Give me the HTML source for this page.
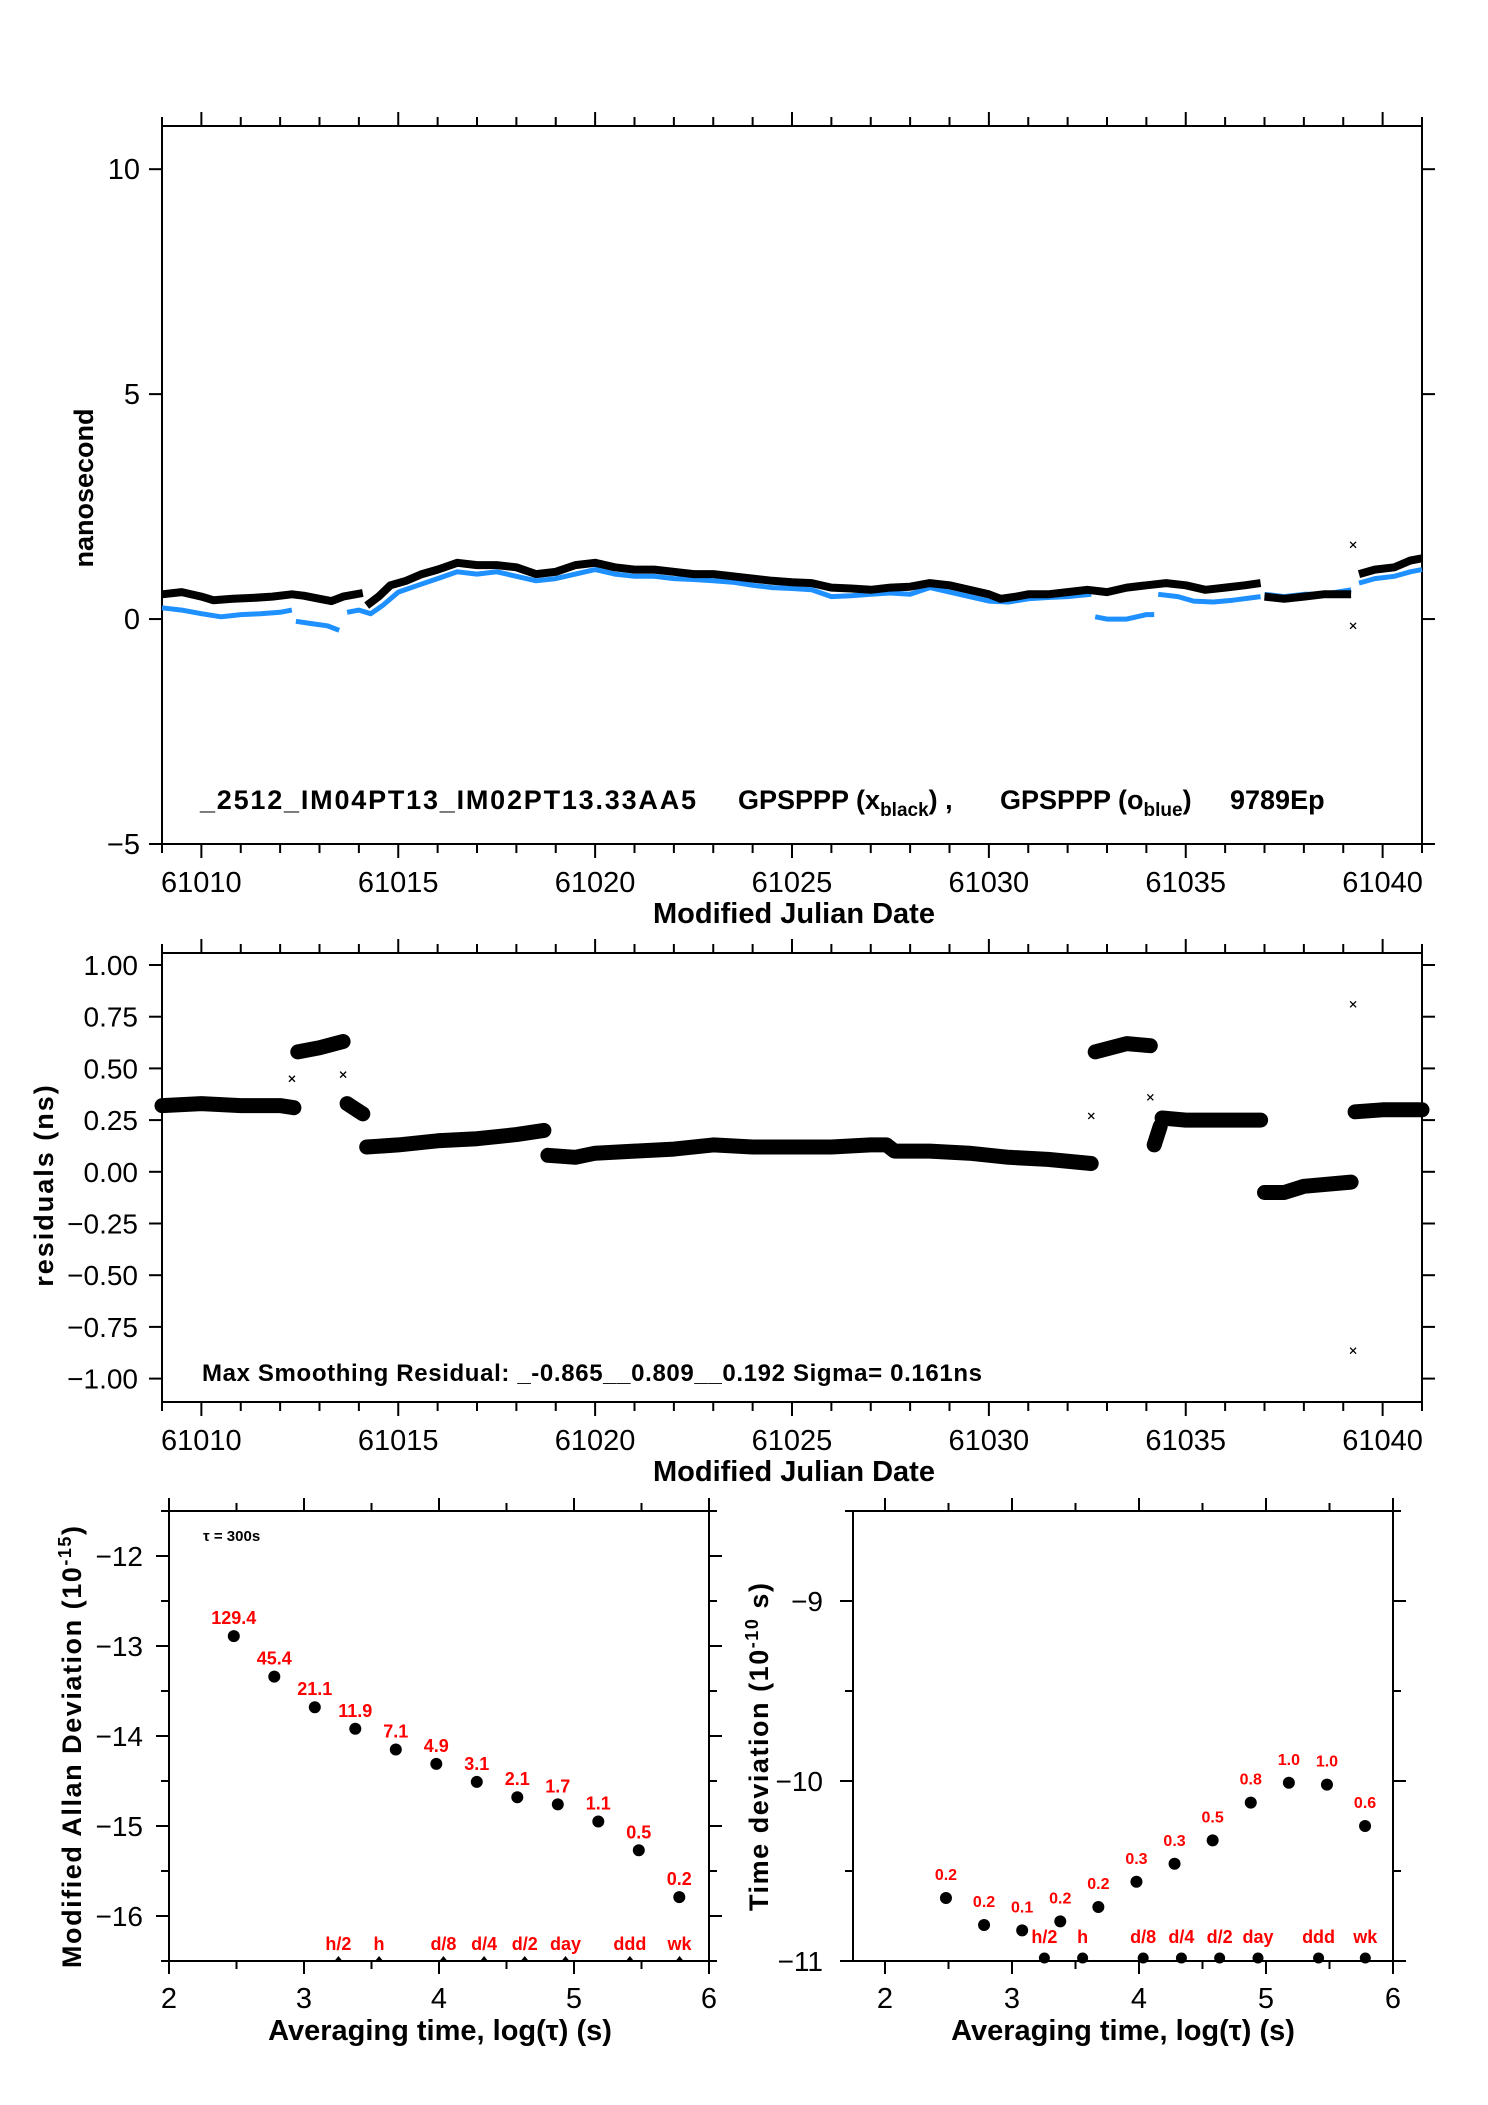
<!DOCTYPE html>
<html><head><meta charset="utf-8"><style>
html,body{margin:0;padding:0;background:#fff;}
svg{display:block;font-family:"Liberation Sans",Arial,sans-serif;}
</style></head><body>
<svg id="chart" width="1488" height="2105" viewBox="0 0 1488 2105" xmlns="http://www.w3.org/2000/svg">
<rect x="0" y="0" width="1488" height="2105" fill="#fff"/>
<g id="g1"></g>
<g id="g2"></g>
<g id="g3"></g>
<g id="g4"></g>
</svg>
<script>
// ---------- data ----------
const blackMjd=[61009.0,61009.5,61010.0,61010.3,61010.8,61011.3,61011.8,61012.3,61012.6,61013.0,61013.3,61013.6,61014.1,null,61014.2,61014.5,61014.8,61015.2,61015.6,61016.0,61016.5,61017.0,61017.5,61018.0,61018.5,61019.0,61019.5,61020.0,61020.5,61021.0,61021.5,61022.0,61022.5,61023.0,61023.5,61024.0,61024.5,61025.0,61025.5,61026.0,61026.5,61027.0,61027.5,61028.0,61028.5,61029.0,61029.5,61030.0,61030.3,61030.7,61031.0,61031.5,61032.0,61032.5,61033.0,61033.5,61034.0,61034.5,61035.0,61035.5,61036.0,61036.5,61036.9,null,61037.0,61037.5,61038.0,61038.5,61039.2,null,61039.4,61039.8,61040.3,61040.7,61041.0];
const blackNs=[0.55,0.6,0.5,0.42,0.45,0.47,0.5,0.55,0.52,0.45,0.4,0.5,0.58,null,0.3,0.5,0.75,0.85,1.0,1.1,1.25,1.2,1.2,1.15,1.0,1.05,1.2,1.25,1.15,1.1,1.1,1.05,1.0,1.0,0.95,0.9,0.85,0.82,0.8,0.7,0.68,0.65,0.7,0.72,0.8,0.75,0.65,0.55,0.45,0.5,0.55,0.55,0.6,0.65,0.6,0.7,0.75,0.8,0.75,0.65,0.7,0.75,0.8,null,0.5,0.45,0.5,0.55,0.55,null,1.0,1.1,1.15,1.3,1.35];
const blueMjd=[61009.0,61009.5,61010.0,61010.5,61011.0,61011.5,61012.0,61012.3,null,61012.4,61012.8,61013.2,61013.5,null,61013.7,61014.0,61014.3,61014.6,61015,61015.5,61016,61016.5,61017,61017.5,61018,61018.5,61019,61019.5,61020,61020.5,61021,61021.5,61022,61022.5,61023,61023.5,61024,61024.5,61025,61025.5,61026,61026.5,61027,61027.5,61028,61028.5,61029,61029.5,61030,61030.5,61031,61031.5,61032,61032.6,null,61032.7,61033,61033.5,61034,61034.2,null,61034.3,61034.8,61035.2,61035.7,61036.2,61036.9,null,61037,61037.5,61038,61038.5,61039.2,null,61039.4,61039.8,61040.3,61040.7,61041];
const blueNs=[0.25,0.2,0.12,0.05,0.1,0.12,0.15,0.2,null,-0.05,-0.1,-0.15,-0.25,null,0.15,0.2,0.12,0.3,0.6,0.75,0.9,1.05,1.0,1.05,0.95,0.85,0.9,1.0,1.1,1.0,0.95,0.95,0.9,0.88,0.85,0.82,0.75,0.7,0.68,0.65,0.5,0.52,0.55,0.58,0.55,0.7,0.6,0.5,0.4,0.38,0.45,0.48,0.5,0.55,null,0.05,0.0,0.0,0.1,0.1,null,0.55,0.5,0.4,0.38,0.42,0.5,null,0.55,0.5,0.55,0.55,0.65,null,0.8,0.9,0.95,1.05,1.1];
const phaseOutMjd=[61039.25,61039.25];
const phaseOutNs=[1.65,-0.15];
const resMjd=[61009,61010,61011,61012,61012.35,null,61012.45,61013,61013.6,null,61013.7,61014.1,null,61014.2,61015,61016,61017,61018,61018.7,null,61018.8,61019.5,61020,61021,61022,61023,61024,61025,61026,61027,61027.4,61027.6,61028.5,61029.5,61030.5,61031.5,61032.6,null,61032.7,61033.5,61034.1,null,61034.2,61034.35,null,61034.4,61035,61036,61036.9,null,61037,61037.5,61038,61039.2,null,61039.3,61040,61041];
const resNs=[0.32,0.33,0.32,0.32,0.31,null,0.58,0.6,0.63,null,0.33,0.28,null,0.12,0.13,0.15,0.16,0.18,0.2,null,0.08,0.07,0.09,0.1,0.11,0.13,0.12,0.12,0.12,0.13,0.13,0.1,0.1,0.09,0.07,0.06,0.04,null,0.58,0.62,0.61,null,0.13,0.22,null,0.26,0.25,0.25,0.25,null,-0.1,-0.1,-0.07,-0.05,null,0.29,0.3,0.3];
const resOutMjd=[61039.25,61039.25,61013.6,61032.6,61034.1,61012.3];
const resOutNs=[0.81,-0.865,0.47,0.27,0.36,0.45];
const logTau=[2.48,2.78,3.08,3.38,3.68,3.98,4.28,4.58,4.88,5.18,5.48,5.78];
const madev=[-12.89,-13.34,-13.68,-13.92,-14.15,-14.31,-14.51,-14.68,-14.76,-14.95,-15.27,-15.79];
const madevLabels=["129.4","45.4","21.1","11.9","7.1","4.9","3.1","2.1","1.7","1.1","0.5","0.2"];
const tdev=[-10.65,-10.80,-10.83,-10.78,-10.70,-10.56,-10.46,-10.33,-10.12,-10.01,-10.02,-10.25];
const tdevLabels=["0.2","0.2","0.1","0.2","0.2","0.3","0.3","0.5","0.8","1.0","1.0","0.6"];
const markerTau=[3.255,3.556,4.033,4.334,4.635,4.937,5.414,5.782];
const markerNames=["h/2","h","d/8","d/4","d/2","day","ddd","wk"];
const phaseYTicks=[-5,0,5,10];
const resYTicks=[1.0,0.75,0.5,0.25,0,-0.25,-0.5,-0.75,-1.0];
const resYTickLabels=["1.00","0.75","0.50","0.25","0.00","\u22120.25","\u22120.50","\u22120.75","\u22121.00"];
const mjdTickLabels=[61010,61015,61020,61025,61030,61035,61040];
const madevYTicks=[-12,-13,-14,-15,-16];
const tdevYTicks=[-9,-10,-11];
const tauXTicks=[2,3,4,5,6];

// ---------- helpers ----------
const NS="http://www.w3.org/2000/svg";
function mk(parent,tag,attrs,text){const e=document.createElementNS(NS,tag);for(const k in attrs)e.setAttribute(k,attrs[k]);if(text!==undefined)e.textContent=text;parent.appendChild(e);return e;}
function lin(d0,d1,p0,p1){return v=>p0+(v-d0)*(p1-p0)/(d1-d0);}
function fmtNeg(v){return v<0?"\u2212"+Math.abs(v):String(v);}
function line(g,x1,y1,x2,y2,w){const l=mk(g,'line',{x1,y1,x2,y2,stroke:'#000','stroke-width':w||2});


return l;}
function frame(g,L,T,R,B){const r=mk(g,'rect',{x:L,y:T,width:R-L,height:B-T,fill:'none',stroke:'#000','stroke-width':2});

}
function segs(xs,ys,sx,sy){const out=[];let cur=[];for(let i=0;i<xs.length;i++){if(xs[i]===null){if(cur.length)out.push(cur);cur=[];}else cur.push(sx(xs[i]).toFixed(1)+','+sy(ys[i]).toFixed(1));}if(cur.length)out.push(cur);return out;}
function xmark(g,x,y){const p=mk(g,'path',{d:`M${x-3},${y-3}L${x+3},${y+3}M${x-3},${y+3}L${x+3},${y-3}`,stroke:'#000','stroke-width':1.3});

}
function mjdAxes(g,sx,T,B){for(let d=61009;d<=61041;d++){const x=sx(d);const maj=d%5===0;line(g,x,T,x,T-(maj?14:9));line(g,x,B,x,B+(maj?14:9));}
mjdTickLabels.forEach(v=>{const t=mk(g,'text',{x:sx(v),y:B+48,'font-size':29,'text-anchor':'middle'},String(v));

});}

// ---------- plot 1 ----------
(function(){const g=document.getElementById('g1');
const L=162,R=1422,T=126,B=844;const sx=lin(61009,61041,L,R);const sy=lin(-5,10.96,B,T);
frame(g,L,T,R,B);mjdAxes(g,sx,T,B);
phaseYTicks.forEach(v=>{const y=sy(v);line(g,L,y,L-13,y);line(g,R,y,R+13,y);
const t=mk(g,'text',{x:140,y:y+10,'font-size':29,'text-anchor':'end'},fmtNeg(v));

});
segs(blueMjd,blueNs,sx,sy).forEach(s=>{const p=mk(g,'polyline',{points:s.join(' '),fill:'none',stroke:'#1e90ff','stroke-width':5,'stroke-linejoin':'round'});

});
segs(blackMjd,blackNs,sx,sy).forEach(s=>{const p=mk(g,'polyline',{points:s.join(' '),fill:'none',stroke:'#000','stroke-width':8,'stroke-linejoin':'round'});

});
phaseOutMjd.forEach((m,i)=>xmark(g,sx(m),sy(phaseOutNs[i])));
const yt=mk(g,'text',{x:0,y:0,'font-size':27,'font-weight':'bold','text-anchor':'middle',transform:'translate(93,488) rotate(-90)'},'nanosecond');


const xt=mk(g,'text',{x:794,y:923,'font-size':29,'font-weight':'bold','text-anchor':'middle'},'Modified Julian Date');


const lg=mk(g,'text',{x:200,y:809,'font-size':27,'font-weight':'bold'});


lg.innerHTML='<tspan x="200" textLength="496">_2512_IM04PT13_IM02PT13.33AA5</tspan><tspan x="738">GPSPPP (x</tspan><tspan font-size="19" dy="7">black</tspan><tspan dy="-7">) ,</tspan><tspan x="1000">GPSPPP (o</tspan><tspan font-size="19" dy="7">blue</tspan><tspan dy="-7">)</tspan><tspan x="1230">9789Ep</tspan>';
})();

// ---------- plot 2 ----------
(function(){const g=document.getElementById('g2');
const L=162,R=1422,T=953,B=1402;const sx=lin(61009,61041,L,R);const sy=lin(-1,1,1378.6,965);
frame(g,L,T,R,B);mjdAxes(g,sx,T,B);
resYTicks.forEach((v,i)=>{const y=sy(v);line(g,L,y,L-13,y);line(g,R,y,R+13,y);
const t=mk(g,'text',{x:138,y:y+10,'font-size':28,'text-anchor':'end'},resYTickLabels[i]);

});
segs(resMjd,resNs,sx,sy).forEach(s=>{const p=mk(g,'polyline',{points:s.join(' '),fill:'none',stroke:'#000','stroke-width':15,'stroke-linejoin':'round','stroke-linecap':'round'});

});
resOutMjd.forEach((m,i)=>xmark(g,sx(m),sy(resOutNs[i])));
const yt=mk(g,'text',{x:0,y:0,'font-size':27,'font-weight':'bold','text-anchor':'middle','letter-spacing':'2',transform:'translate(53,1185) rotate(-90)'},'residuals (ns)');


const xt=mk(g,'text',{x:794,y:1481,'font-size':29,'font-weight':'bold','text-anchor':'middle'},'Modified Julian Date');


const st=mk(g,'text',{x:202,y:1381,'font-size':24,'font-weight':'bold',textLength:780},'Max Smoothing Residual: _-0.865__0.809__0.192  Sigma= 0.161ns');


})();

// ---------- plot 3 ----------
(function(){const g=document.getElementById('g3');
const L=169,R=709,T=1511,B=1961;const sx=lin(2,6,L,R);const sy=lin(-16.5,-11.5,B,T);
frame(g,L,T,R,B);
for(let v=2;v<=6.001;v+=0.5){const x=sx(v);const maj=Math.abs(v-Math.round(v))<0.01;line(g,x,T,x,T-(maj?13:8));line(g,x,B,x,B+(maj?13:8));}
for(let v=-16.5;v<=-11.5;v+=0.5){const y=sy(v);const maj=Math.abs(v-Math.round(v))<0.01;line(g,L,y,L-(maj?13:8),y);line(g,R,y,R+(maj?13:8),y);}
madevYTicks.forEach(v=>{const t=mk(g,'text',{x:143,y:sy(v)+10,'font-size':28,'text-anchor':'end'},fmtNeg(v));

});
tauXTicks.forEach(v=>{const t=mk(g,'text',{x:sx(v),y:2008,'font-size':29,'text-anchor':'middle'},String(v));

});
logTau.forEach((v,i)=>{const c=mk(g,'circle',{cx:sx(v),cy:sy(madev[i]),r:6,fill:'#000'});


const t=mk(g,'text',{x:sx(v),y:sy(madev[i])-12,'font-size':18,'font-weight':'bold',fill:'#ff0000','text-anchor':'middle'},madevLabels[i]);

});
markerTau.forEach((v,i)=>{const p=mk(g,'path',{d:`M${sx(v)-4},${B}L${sx(v)},${B-5}L${sx(v)+4},${B}Z`,fill:'#000'});


const t=mk(g,'text',{x:sx(v),y:1950,'font-size':18,'font-weight':'bold',fill:'#ff0000','text-anchor':'middle'},markerNames[i]);

});
const tt=mk(g,'text',{x:203,y:1541,'font-size':15,'font-weight':'bold'},'\u03c4 = 300s');


const yt=mk(g,'text',{x:0,y:0,'font-size':27,'font-weight':'bold','text-anchor':'middle',textLength:442,transform:'translate(81,1747) rotate(-90)'});


yt.innerHTML='Modified Allan Deviation (10<tspan font-size="18" dy="-10">-15</tspan><tspan dy="10">)</tspan>';
const xt=mk(g,'text',{x:440,y:2040,'font-size':29,'font-weight':'bold','text-anchor':'middle'},'Averaging time, log(\u03c4) (s)');


})();

// ---------- plot 4 ----------
(function(){const g=document.getElementById('g4');
const L=853,R=1393,T=1511,B=1961;const sx=lin(2,6,885,1393);const sy=lin(-11,-8.5,B,T);
frame(g,L,T,R,B);
for(let v=2;v<=6.001;v+=0.5){const x=sx(v);const maj=Math.abs(v-Math.round(v))<0.01;line(g,x,T,x,T-(maj?13:8));line(g,x,B,x,B+(maj?13:8));}
for(let v=-11;v<=-8.5;v+=0.5){const y=sy(v);const maj=Math.abs(v-Math.round(v))<0.01;line(g,L,y,L-(maj?13:8),y);line(g,R,y,R+(maj?13:8),y);}
tdevYTicks.forEach(v=>{const t=mk(g,'text',{x:823,y:sy(v)+10,'font-size':28,'text-anchor':'end'},fmtNeg(v));

});
tauXTicks.forEach(v=>{const t=mk(g,'text',{x:sx(v),y:2008,'font-size':29,'text-anchor':'middle'},String(v));

});
logTau.forEach((v,i)=>{const c=mk(g,'circle',{cx:sx(v),cy:sy(tdev[i]),r:6,fill:'#000'});


const t=mk(g,'text',{x:sx(v),y:sy(tdev[i])-18,'font-size':16,'font-weight':'bold',fill:'#ff0000','text-anchor':'middle'},tdevLabels[i]);

});
markerTau.forEach((v,i)=>{const c=mk(g,'circle',{cx:sx(v),cy:B-3,r:5.5,fill:'#000'});


const t=mk(g,'text',{x:sx(v),y:1943,'font-size':18,'font-weight':'bold',fill:'#ff0000','text-anchor':'middle'},markerNames[i]);

});
const yt=mk(g,'text',{x:0,y:0,'font-size':27,'font-weight':'bold','text-anchor':'middle',textLength:328,transform:'translate(768,1747) rotate(-90)'});


yt.innerHTML='Time deviation (10<tspan font-size="18" dy="-10">-10</tspan><tspan dy="10"> s)</tspan>';
const xt=mk(g,'text',{x:1123,y:2040,'font-size':29,'font-weight':'bold','text-anchor':'middle'},'Averaging time, log(\u03c4) (s)');


})();
</script>
</body></html>
